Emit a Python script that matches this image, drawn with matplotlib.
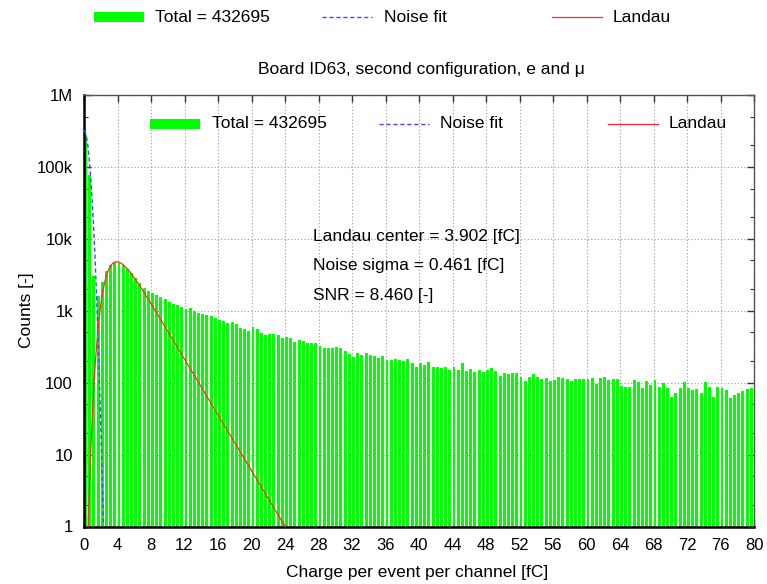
import numpy as np
import matplotlib
matplotlib.use("Agg")
import matplotlib.pyplot as plt
from matplotlib.lines import Line2D
from matplotlib.patches import Rectangle
from matplotlib.ticker import FixedLocator, FixedFormatter, NullFormatter

plt.rcParams["font.family"] = ["Liberation Sans", "DejaVu Sans"]

# Histogram of charge per event per channel, 0.5 fC bins
bin_width = 0.5
counts = [
    280000, 76000, 3000, 1580, 2490, 3610, 4340, 4720, 4720, 4340,
    3850, 3350, 2830, 2450, 2100, 1900, 1750, 1650, 1560, 1450,
    1330, 1250, 1200, 1120, 1070, 1090, 990, 930, 900, 880,
    838, 794, 752, 714, 670, 692, 661, 582, 558, 529,
    589, 563, 487, 461, 471, 476, 465, 414, 436, 419,
    372, 393, 380, 360, 353, 353, 327, 301, 301, 307,
    316, 301, 276, 248, 230, 261, 243, 256, 243, 235,
    218, 235, 207, 207,
    212, 209, 200, 216, 186, 165, 186, 176, 192, 165,
    165, 160, 165, 150, 165, 152, 186, 145, 155, 142,
    150, 139, 150, 160, 144, 125, 135, 131, 135, 135,
    119, 106, 121, 131, 121, 113, 115, 105, 108, 121,
    117, 113, 106, 114, 114,
    113, 111, 115, 95, 115, 121, 109, 111, 111, 90,
    88, 88, 108, 103, 84, 106, 92, 108, 88, 98,
    85, 63, 71, 83, 103, 85, 79, 82, 71, 103,
    88, 63, 88, 84, 80, 61, 67, 71, 77, 82,
    85,
]
total_label = "Total = 432695"

# Fit results
noise_peak = 3.2e5
noise_sigma = 0.461
landau_center = 3.902
landau_width = 1.12
landau_peak = 4800
snr = 8.460

x_ticks = list(range(0, 81, 4))
y_ticks = [1, 10, 100, 1e3, 1e4, 1e5, 1e6]
y_tick_labels = ["1", "10", "100", "1k", "10k", "100k", "1M"]

W, H = 767, 584
fig = plt.figure(figsize=(W / 100, H / 100), dpi=100)
ax = fig.add_axes([84 / W, 1 - 526.5 / H, 670 / W, 431.5 / H])
ax.set_yscale("log")

green = "#00ff00"
blue = "#4646ff"
red = "#ff2a2a"
dash = (0, (3, 2))

bin_lo = np.arange(len(counts)) * bin_width
ax.bar(bin_lo + 0.18, counts, width=0.35, color=green, edgecolor="none",
       zorder=2)

xs = np.linspace(0, 80, 4001)
noise = noise_peak * np.exp(-xs ** 2 / (2 * noise_sigma ** 2))
lam = (xs - landau_center) / landau_width
landau = landau_peak * np.exp(0.5) * np.exp(-0.5 * (lam + np.exp(-lam)))
ax.plot(xs, noise, color=blue, lw=1.0, ls=dash, zorder=3)
ax.plot(xs, landau, color=red, lw=0.9, zorder=4)

ax.set_xlim(0, 80)
ax.set_ylim(1, 1e6)
ax.xaxis.set_major_locator(FixedLocator(x_ticks))
ax.yaxis.set_major_locator(FixedLocator(y_ticks))
ax.yaxis.set_major_formatter(FixedFormatter(y_tick_labels))
minor = [m * 10 ** d for d in range(0, 6) for m in (2, 5)]
ax.yaxis.set_minor_locator(FixedLocator(minor))
ax.yaxis.set_minor_formatter(NullFormatter())
ax.tick_params(which="major", direction="in", length=5, width=1,
               top=True, right=True, labelsize=12, pad=8, color="#333333")
ax.tick_params(which="minor", direction="in", length=3, width=0.8,
               left=True, right=True, color="#333333")
ax.grid(True, which="major", color="#9a9a9a", lw=0.8, ls=(0, (1, 2)),
        zorder=0)
ax.set_axisbelow(True)
for side in ("left", "bottom"):
    ax.spines[side].set_linewidth(1.8)
for side in ("top", "right"):
    ax.spines[side].set_linewidth(1.0)
    ax.spines[side].set_color("#555555")

ax.set_xlabel("Charge per event per channel [fC]", fontsize=12.5)
ax.set_ylabel("Counts [-]", fontsize=12.5)
ax.xaxis.set_label_coords(0.497, -0.089)
ax.yaxis.set_label_coords(-0.074, 0.502)
ax.text(0.503, 1.058, "Board ID63, second configuration, e and \u03bc",
        transform=ax.transAxes, ha="center", va="center", fontsize=12.5)

# Fit summary
info = [f"Landau center = {landau_center:.3f} [fC]",
        f"Noise sigma = {noise_sigma:.3f} [fC]",
        f"SNR = {snr:.3f} [-]"]
for line, yf in zip(info, (0.671, 0.604, 0.536)):
    ax.text(0.342, yf, line, transform=ax.transAxes, ha="left", va="center",
            fontsize=12.5, zorder=5)


def fx(px):
    return px / W


def fy(py):
    return 1 - py / H


def draw_key(x0, yc):
    # green box, blue dashed sample, red sample, each with its text
    fig.add_artist(Rectangle((fx(x0), fy(yc + 5)), fx(50), 10 / H,
                             transform=fig.transFigure, color=green,
                             lw=0, zorder=6))
    fig.text(fx(x0 + 61.5), fy(yc), total_label, ha="left", va="center",
             fontsize=12.5, zorder=6)
    bx = x0 + 228.5
    fig.add_artist(Line2D([fx(bx), fx(bx + 50)], [fy(yc), fy(yc)],
                          transform=fig.transFigure, color=blue, lw=1.0,
                          ls=dash, zorder=6))
    fig.text(fx(bx + 61.5), fy(yc), "Noise fit", ha="left", va="center",
             fontsize=12.5, zorder=6)
    rx = x0 + 458
    fig.add_artist(Line2D([fx(rx), fx(rx + 50)], [fy(yc), fy(yc)],
                          transform=fig.transFigure, color=red, lw=0.9,
                          zorder=6))
    fig.text(fx(rx + 61), fy(yc), "Landau", ha="left", va="center",
             fontsize=12.5, zorder=6)


draw_key(93.5, 17)
draw_key(150, 123.5)

fig.savefig("out.png", dpi=100)
